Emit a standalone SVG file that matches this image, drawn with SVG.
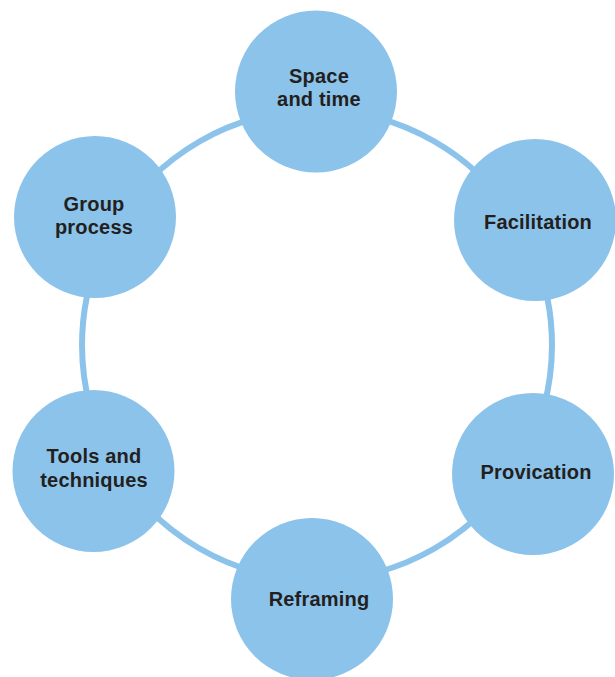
<svg xmlns="http://www.w3.org/2000/svg" width="615" height="677" viewBox="0 0 615 677">
<style>
.ring{fill:none;stroke:#8CC3EA;stroke-width:6}
.node{fill:#8CC3EA}
.lbl{font-family:"Liberation Sans",Arial,sans-serif;font-weight:bold;font-size:20px;letter-spacing:0.2px;fill:#231F20;text-anchor:middle}
</style>
<rect width="615" height="677" fill="#FFFFFF"/>
<g id="connectors">
<path class="ring" d="M 317 110 A 235 235 0 0 1 520.5 227.5"/>
<path class="ring" d="M 520.5 227.5 A 235 235 0 0 1 520.5 462.5"/>
<path class="ring" d="M 520.5 462.5 A 235 235 0 0 1 317 580"/>
<path class="ring" d="M 317 580 A 235 235 0 0 1 113.5 462.5"/>
<path class="ring" d="M 113.5 462.5 A 235 235 0 0 1 113.5 227.5"/>
<path class="ring" d="M 113.5 227.5 A 235 235 0 0 1 317 110"/>
</g>
<g id="space-and-time">
<circle class="node" cx="316" cy="91.5" r="81"/>
<text class="lbl" x="319" y="83">Space</text>
<text class="lbl" x="319" y="106">and time</text>
</g>
<g id="facilitation">
<circle class="node" cx="535" cy="220" r="81"/>
<text class="lbl" x="538" y="229">Facilitation</text>
</g>
<g id="provication">
<circle class="node" cx="533" cy="474" r="81"/>
<text class="lbl" x="536" y="479">Provication</text>
</g>
<g id="reframing">
<circle class="node" cx="312" cy="599" r="81"/>
<text class="lbl" x="319" y="606">Reframing</text>
</g>
<g id="tools-and-techniques">
<circle class="node" cx="93.5" cy="471" r="81"/>
<text class="lbl" x="94" y="463">Tools and</text>
<text class="lbl" x="94" y="487">techniques</text>
</g>
<g id="group-process">
<circle class="node" cx="95" cy="217" r="81"/>
<text class="lbl" x="94" y="211">Group</text>
<text class="lbl" x="94" y="234">process</text>
</g>
</svg>
